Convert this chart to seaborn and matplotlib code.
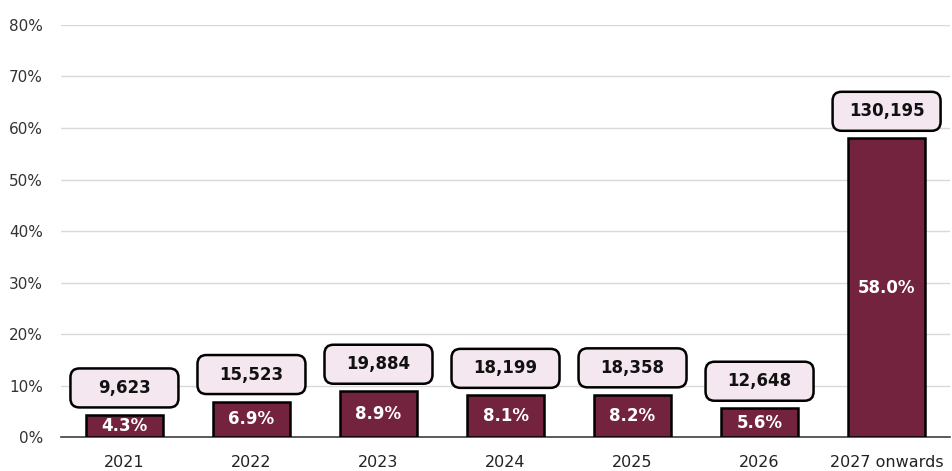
import pandas as pd
import numpy as np
import seaborn as sns
import matplotlib.pyplot as plt
from matplotlib.patches import FancyBboxPatch
from matplotlib.transforms import IdentityTransform
from matplotlib.ticker import PercentFormatter

sns.set_style(style="white")
plt.rcParams['font.family'] = ['DejaVu Sans']

# data
years = ["2021", "2022", "2023", "2024", "2025", "2026", "2027 onwards"]
share = [4.3, 6.9, 8.9, 8.1, 8.2, 5.6, 58.0]
counts = [9623, 15523, 19884, 18199, 18358, 12648, 130195]

df = pd.DataFrame({"year": years, "share": share, "count": counts})

fig = plt.figure(figsize=(9.52, 4.71), dpi=100)
ax = fig.add_axes([0.064, 0.072, 0.934, 0.875])

sns.barplot(data=df, x="year", y="share", color="#74233F", width=0.6,
            edgecolor="black", linewidth=1.8, saturation=1, ax=ax, zorder=3)

ax.set_ylim(0, 80)
ax.set_xlim(-0.5, 6.5)
ax.set_yticks(np.arange(0, 81, 10))
ax.yaxis.set_major_formatter(PercentFormatter(decimals=0))
ax.grid(axis="y", color="#D9D9D9", linewidth=1, zorder=0)
ax.set_xlabel("")
ax.set_ylabel("")
for s in ["top", "right", "left"]:
    ax.spines[s].set_visible(False)
ax.spines["bottom"].set_color("#404040")
ax.spines["bottom"].set_linewidth(1.2)
ax.tick_params(axis="y", length=0, pad=13, labelsize=11, labelcolor="#333333")
ax.tick_params(axis="x", length=0, pad=13, labelsize=11.5, labelcolor="#222222")

# labels: share inside bar, count in a rounded box above (box size in pixels)
box_w, box_h, gap = 108, 39, 27
for i, (v, c) in enumerate(zip(share, counts)):
    ax.text(i, v / 2, f"{v:.1f}%", ha="center", va="center", color="white",
            fontsize=12, fontweight="bold", zorder=5)
    px, py = ax.transData.transform((i, v))
    cy = py + gap
    box = FancyBboxPatch((px - box_w / 2, cy - box_h / 2), box_w, box_h,
                         boxstyle="round,pad=0,rounding_size=9",
                         fc="#F5E7EF", ec="black", lw=1.8,
                         transform=IdentityTransform(), zorder=6, clip_on=False)
    ax.add_artist(box)
    ax.annotate(f"{c:,}", xy=(i, v), xytext=(0, gap), textcoords="offset pixels",
                ha="center", va="center", fontsize=12, fontweight="bold",
                color="#111111", zorder=7)

fig.savefig("out.png", dpi=100)
